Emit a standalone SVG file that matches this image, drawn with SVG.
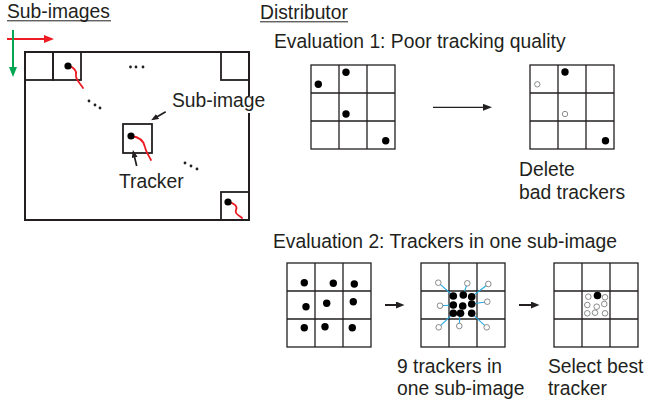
<svg xmlns="http://www.w3.org/2000/svg" width="646" height="407" viewBox="0 0 646 407">
<style>
  text { font-family: "Liberation Sans", Arial, sans-serif; font-size: 19.3px; fill: #231f20; }
  .ul { stroke: #231f20; stroke-width: 1; }
  .frame { fill: none; stroke: #231f20; stroke-width: 2; }
  .sq { fill: none; stroke: #231f20; stroke-width: 1.8; }
  .grid { fill: none; stroke: #231f20; stroke-width: 1.3; }
  .dot { fill: #000; }
  .open { fill: #fff; stroke: #6d6e71; stroke-width: 0.8; }
  .trail { fill: none; stroke: #ed1c24; stroke-width: 1.8; stroke-linecap: round; }
  .tiny { fill: #231f20; }
  .blue { stroke: #27aae1; stroke-width: 1.1; }
  .arr { fill: none; stroke: #231f20; }
</style>
<defs>
  <g id="grid3">
    <rect class="grid" x="0" y="0" width="84" height="84"/>
    <path class="grid" d="M28,0V84M56,0V84M0,28H84M0,56H84"/>
  </g>
  <marker id="ahBlack" markerUnits="userSpaceOnUse" markerWidth="12" markerHeight="10" refX="6" refY="3.5" orient="auto">
    <path d="M0,0 L9,3.5 L0,7 z" fill="#231f20"/>
  </marker>
  <marker id="ahSmall" markerUnits="userSpaceOnUse" markerWidth="10" markerHeight="10" refX="5" refY="3" orient="auto">
    <path d="M0,0 L7.5,3 L0,6 z" fill="#231f20"/>
  </marker>
  <marker id="ahMid" markerUnits="userSpaceOnUse" markerWidth="12" markerHeight="10" refX="5" refY="3.5" orient="auto">
    <path d="M0,0 L8.5,3.5 L0,7 z" fill="#231f20"/>
  </marker>
  <marker id="ahRed" markerUnits="userSpaceOnUse" markerWidth="12" markerHeight="10" refX="7" refY="4" orient="auto">
    <path d="M0,0 L10,4 L0,8 z" fill="#ed1c24"/>
  </marker>
  <marker id="ahGreen" markerUnits="userSpaceOnUse" markerWidth="12" markerHeight="10" refX="7" refY="4" orient="auto">
    <path d="M0,0 L10,4 L0,8 z" fill="#00a651"/>
  </marker>
</defs>

<g id="titles">
  <text x="7" y="17.5">Sub-images</text>
  <line class="ul" x1="7" y1="20.8" x2="111" y2="20.8"/>
  <text x="260" y="18.5">Distributor</text>
  <line class="ul" x1="260" y1="21.8" x2="348" y2="21.8"/>
</g>

<g id="image-frame">
  <rect class="frame" x="25" y="52" width="224" height="168"/>
  <rect x="244" y="96" width="10" height="17" fill="#fff"/>
  <rect class="sq" x="25" y="52" width="28" height="28"/>
  <rect class="sq" x="53" y="52" width="28" height="28"/>
  <rect class="sq" x="221" y="52" width="28" height="28"/>
  <rect class="sq" x="221" y="192" width="28" height="28"/>
  <rect class="sq" x="123" y="124" width="29" height="29"/>
  <path class="trail" d="M68,66 C74,67 77,71 76,75 C75,79 80,83 83,88"/>
  <circle class="dot" cx="68" cy="66" r="3.6"/>
  <path class="trail" d="M131,136 C139,137 144,141 145,147 C146,152 149,156 151,160"/>
  <circle class="dot" cx="131" cy="136" r="3.6"/>
  <path class="trail" d="M228,202 C234,203 238,206 236,210 C234,214 240,216 242,218"/>
  <circle class="dot" cx="228" cy="202" r="3.6"/>
  <circle class="tiny" cx="130.5" cy="67" r="1.4"/>
  <circle class="tiny" cx="136" cy="67" r="1.4"/>
  <circle class="tiny" cx="143" cy="67" r="1.4"/>
  <circle class="tiny" cx="89" cy="101" r="1.4"/>
  <circle class="tiny" cx="95" cy="105" r="1.4"/>
  <circle class="tiny" cx="100" cy="108" r="1.4"/>
  <circle class="tiny" cx="185" cy="163" r="1.4"/>
  <circle class="tiny" cx="191" cy="166" r="1.4"/>
  <circle class="tiny" cx="197" cy="169" r="1.4"/>
  <text x="172" y="107">Sub-image</text>
  <text x="119" y="188">Tracker</text>
</g>

<g id="eval1">
  <text x="274" y="48">Evaluation 1: Poor tracking quality</text>
  <g id="eval1-before">
    <use href="#grid3" x="311" y="65"/>
    <circle class="dot" cx="318.3" cy="84.3" r="3.7"/>
    <circle class="dot" cx="346" cy="72.3" r="3.7"/>
    <circle class="dot" cx="346" cy="114" r="3.7"/>
    <circle class="dot" cx="385.7" cy="140.7" r="3.7"/>
  </g>
  <g id="eval1-after">
    <use href="#grid3" x="530" y="65"/>
    <circle class="open" cx="537.3" cy="84.3" r="2.7"/>
    <circle class="dot" cx="565" cy="72" r="3.7"/>
    <circle class="open" cx="565" cy="114" r="2.7"/>
    <circle class="dot" cx="605.5" cy="140.7" r="3.7"/>
    <text x="519" y="176">Delete</text>
    <text x="519" y="199">bad trackers</text>
  </g>
</g>

<g id="eval2">
  <text x="273" y="248">Evaluation 2: Trackers in one sub-image</text>
  <g id="eval2-initial">
    <use href="#grid3" x="287" y="263"/>
    <circle class="dot" cx="304.3" cy="282.7" r="3.7"/>
    <circle class="dot" cx="333.3" cy="283.3" r="3.7"/>
    <circle class="dot" cx="354.3" cy="284" r="3.7"/>
    <circle class="dot" cx="306" cy="306.7" r="3.7"/>
    <circle class="dot" cx="326.7" cy="303.3" r="3.7"/>
    <circle class="dot" cx="353.3" cy="301.7" r="3.7"/>
    <circle class="dot" cx="304.3" cy="327.7" r="3.7"/>
    <circle class="dot" cx="325" cy="326.7" r="3.7"/>
    <circle class="dot" cx="352.3" cy="327.7" r="3.7"/>
  </g>
  <g id="eval2-gathered">
    <use href="#grid3" x="421" y="263"/>
    <path class="blue" d="M438.3,282.7L453.3,296M467.3,283.3L463.3,295M488.3,284L471.7,296.7M440,305.7L453.3,305M487.3,301.7L471.7,304M438.7,327.3L453.3,313.3M459.3,326L460,313.3M486.7,327.3L471.7,313.3"/>
    <circle class="open" cx="438.3" cy="282.7" r="2.8"/>
    <circle class="open" cx="467.3" cy="283.3" r="2.8"/>
    <circle class="open" cx="488.3" cy="284" r="2.8"/>
    <circle class="open" cx="440" cy="305.7" r="2.8"/>
    <circle class="open" cx="487.3" cy="301.7" r="2.8"/>
    <circle class="open" cx="438.7" cy="327.3" r="2.8"/>
    <circle class="open" cx="459.3" cy="326" r="2.8"/>
    <circle class="open" cx="486.7" cy="327.3" r="2.8"/>
    <circle class="dot" cx="453.3" cy="296" r="3.8"/>
    <circle class="dot" cx="463.3" cy="295" r="3.8"/>
    <circle class="dot" cx="471.7" cy="296.7" r="3.8"/>
    <circle class="dot" cx="453.3" cy="305" r="3.8"/>
    <circle class="dot" cx="462.7" cy="306" r="3.8"/>
    <circle class="dot" cx="471.7" cy="304" r="3.8"/>
    <circle class="dot" cx="453.3" cy="313.3" r="3.8"/>
    <circle class="dot" cx="460.5" cy="313.3" r="3.8"/>
    <circle class="dot" cx="471.7" cy="313.3" r="3.8"/>
    <text x="397" y="373">9 trackers in</text>
    <text x="397" y="395">one sub-image</text>
  </g>
  <g id="eval2-selected">
    <use href="#grid3" x="554" y="263"/>
    <circle class="open" cx="588.3" cy="296.7" r="2.8"/>
    <circle class="open" cx="605" cy="297.3" r="2.8"/>
    <circle class="open" cx="587.3" cy="305" r="2.8"/>
    <circle class="open" cx="596.7" cy="306.7" r="2.8"/>
    <circle class="open" cx="604.3" cy="304" r="2.8"/>
    <circle class="open" cx="587.3" cy="313.3" r="2.8"/>
    <circle class="open" cx="595" cy="312.7" r="2.8"/>
    <circle class="open" cx="605" cy="313.3" r="2.8"/>
    <circle class="dot" cx="597.5" cy="295.5" r="3.8"/>
    <text x="548" y="373">Select best</text>
    <text x="548" y="395">tracker</text>
  </g>
</g>

<g id="connectors">
  <line x1="7" y1="39" x2="51" y2="39" stroke="#ed1c24" stroke-width="2" marker-end="url(#ahRed)"/>
  <line x1="13" y1="30" x2="13" y2="74" stroke="#00a651" stroke-width="2" marker-end="url(#ahGreen)"/>
  <line class="arr" x1="165.7" y1="111.7" x2="153.3" y2="119" stroke-width="1.7" marker-end="url(#ahSmall)"/>
  <line class="arr" x1="136.7" y1="166" x2="133.5" y2="152.5" stroke-width="1.7" marker-end="url(#ahSmall)"/>
  <line class="arr" x1="433" y1="107.3" x2="489" y2="107.3" stroke-width="1.3" marker-end="url(#ahBlack)"/>
  <line class="arr" x1="385" y1="305" x2="401" y2="305" stroke-width="2" marker-end="url(#ahMid)"/>
  <line class="arr" x1="519" y1="305" x2="536" y2="305" stroke-width="2" marker-end="url(#ahMid)"/>
</g>
</svg>
